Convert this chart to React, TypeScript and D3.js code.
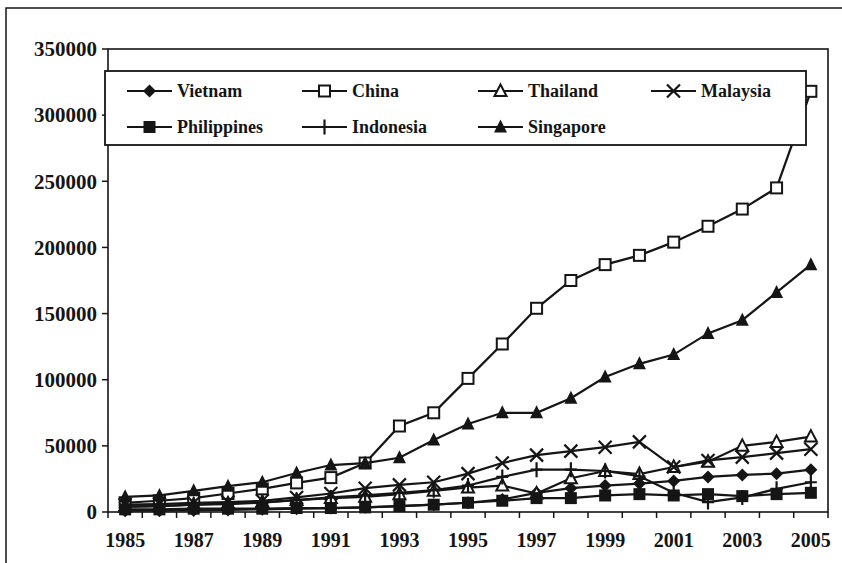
import React from "react";
import * as d3 from "d3";

const years = d3.range(1985, 2006).map(String);
const vietnam = [1000, 1000, 1200, 1500, 2000, 2500, 3000, 3500, 4500, 5500, 7000, 9500, 14500, 18000, 20000, 21500, 23500, 26500, 28000, 29000, 32000];
const china = [7000, 8500, 10500, 14000, 17500, 22000, 26000, 37000, 65000, 75000, 101000, 127000, 154000, 175000, 187000, 194000, 204000, 216000, 229000, 245000, 318000];
const thailand = [4000, 4500, 5500, 6500, 7500, 9000, 10500, 11500, 13500, 16000, 18500, 20000, 14000, 25500, 31000, 28700, 34000, 38000, 50000, 53000, 57000];
const malaysia = [5500, 6000, 7000, 7500, 8500, 11000, 14000, 18000, 20500, 22500, 29000, 37000, 43000, 46000, 49000, 53000, 34000, 39000, 41500, 44500, 47500];
const philippines = [2000, 2000, 2500, 2500, 2500, 3000, 3000, 3500, 4500, 5500, 7000, 8500, 10500, 10500, 12500, 13500, 12500, 13500, 12000, 13500, 14500];
const indonesia = [4000, 4500, 5500, 6000, 7000, 9000, 11000, 12500, 14500, 16500, 20000, 26500, 32000, 32000, 31000, 27000, 14500, 7500, 11000, 17500, 22500];
const singapore = [11500, 12500, 16000, 19500, 22500, 29500, 35500, 37000, 41000, 54500, 66500, 75000, 75000, 86000, 102000, 112000, 119000, 135000, 145000, 166000, 187000];
const yTicks = [0, 50000, 100000, 150000, 200000, 250000, 300000, 350000];
const xLabels = ["1985", "1987", "1989", "1991", "1993", "1995", "1997", "1999", "2001", "2003", "2005"];

type Marker = "diamond" | "openSquare" | "openTriangle" | "x" | "filledSquare" | "plus" | "filledTriangle";
const series: { name: string; values: number[]; marker: Marker }[] = [
  { name: "Vietnam", values: vietnam, marker: "diamond" },
  { name: "China", values: china, marker: "openSquare" },
  { name: "Thailand", values: thailand, marker: "openTriangle" },
  { name: "Malaysia", values: malaysia, marker: "x" },
  { name: "Philippines", values: philippines, marker: "filledSquare" },
  { name: "Indonesia", values: indonesia, marker: "plus" },
  { name: "Singapore", values: singapore, marker: "filledTriangle" },
];

const FONT = '"Liberation Serif", "Times New Roman", "DejaVu Serif", serif';
const INK = "#151515";

function MarkerShape({ type, x, y }: { type: Marker; x: number; y: number }) {
  switch (type) {
    case "diamond":
      return <path d={`M${x},${y - 6.5}L${x + 6.5},${y}L${x},${y + 6.5}L${x - 6.5},${y}Z`} fill={INK} />;
    case "openSquare":
      return <rect x={x - 5.5} y={y - 5.5} width={11} height={11} fill="#fff" stroke={INK} strokeWidth={2} />;
    case "openTriangle":
      return <path d={`M${x},${y - 6.5}L${x + 6},${y + 5}L${x - 6},${y + 5}Z`} fill="#fff" stroke={INK} strokeWidth={2} />;
    case "x":
      return <path d={`M${x - 6.5},${y - 6.5}L${x + 6.5},${y + 6.5}M${x - 6.5},${y + 6.5}L${x + 6.5},${y - 6.5}`} stroke={INK} strokeWidth={2.2} />;
    case "filledSquare":
      return <rect x={x - 6} y={y - 6} width={12} height={12} fill={INK} />;
    case "plus":
      return <path d={`M${x - 6},${y}L${x + 6},${y}M${x},${y - 7.5}L${x},${y + 7.5}`} stroke={INK} strokeWidth={2.2} />;
    case "filledTriangle":
      return <path d={`M${x},${y - 7.5}L${x + 6.5},${y + 5.5}L${x - 6.5},${y + 5.5}Z`} fill={INK} />;
  }
}

export default function App() {
  const left = 108, right = 828, top = 49, bottom = 512;
  const x = d3.scaleBand<string>().domain(years).range([left, right]).padding(0);
  const y = d3.scaleLinear().domain([0, 350000]).range([bottom, top]);
  const cx = (yr: string) => (x(yr) as number) + x.bandwidth() / 2;
  const line = d3.line<number>().x((_, i) => cx(years[i])).y((v) => y(v));
  const boundaries = d3.range(years.length + 1).map((i) => left + i * x.bandwidth());

  const legendCols = [127, 302, 478, 651];
  const legendRows = [91, 127];
  const textStyle = { fontFamily: FONT, fontWeight: 700 } as React.CSSProperties;

  return (
    <svg width={842} height={563} style={{ position: "absolute", left: 0, top: 0 }}>
      <rect x={0} y={0} width={842} height={563} fill="#fff" />
      <rect x={6} y={8} width={900} height={700} fill="none" stroke={INK} strokeWidth={1.5} />
      <rect x={left} y={top} width={right - left} height={bottom - top} fill="none" stroke={INK} strokeWidth={1.6} />
      {yTicks.map((t) => (
        <g key={t}>
          <line x1={102} x2={left} y1={y(t)} y2={y(t)} stroke={INK} strokeWidth={1.5} />
          <text x={97} y={y(t)} dy="0.35em" textAnchor="end" fontSize={21} style={textStyle} fill={INK}>
            {t}
          </text>
        </g>
      ))}
      {boundaries.map((b, i) => (
        <line key={i} x1={b} x2={b} y1={bottom} y2={bottom + 6} stroke={INK} strokeWidth={1.5} />
      ))}
      {xLabels.map((l) => (
        <text key={l} x={cx(l)} y={540} dy="0.35em" textAnchor="middle" fontSize={20} style={textStyle} fill={INK}>
          {l}
        </text>
      ))}
      {series.map((s) => (
        <g key={s.name}>
          <path d={line(s.values) as string} fill="none" stroke={INK} strokeWidth={2.2} />
          {s.values.map((v, i) => (
            <MarkerShape key={i} type={s.marker} x={cx(years[i])} y={y(v)} />
          ))}
        </g>
      ))}
      <rect x={105} y={71} width={701} height={74} fill="#fff" stroke={INK} strokeWidth={1.8} />
      {series.map((s, i) => {
        const lx = legendCols[i % 4];
        const ly = legendRows[Math.floor(i / 4)];
        return (
          <g key={s.name}>
            <line x1={lx} x2={lx + 45} y1={ly} y2={ly} stroke={INK} strokeWidth={2.2} />
            <MarkerShape type={s.marker} x={lx + 22.5} y={ly} />
            <text x={lx + 50} y={ly} dy="0.35em" fontSize={18} style={textStyle} fill={INK}>
              {s.name}
            </text>
          </g>
        );
      })}
    </svg>
  );
}
